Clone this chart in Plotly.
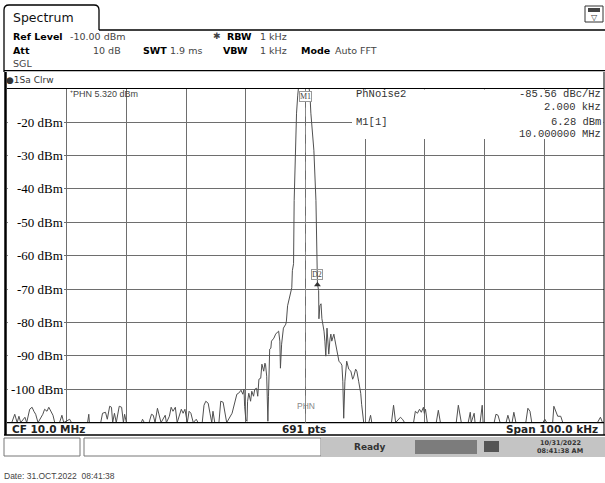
import plotly.graph_objects as go

W, H = 605, 483
def px(x): return x / W
def py(y): return 1 - y / H

# ---------------- data ----------------
center_mhz = 10.0
span_khz = 100.0
ref_level = -10.0
bottom_level = -110.0

offset_khz = [
    -50, -49.2, -48.7, -48.3, -48, -47.7, -47, -46.7, -46.2, -45.8, -45.5, -45.2, -44.8,
    -44, -43.7, -43.3, -43, -42.7, -42.3, -42, -41.2, -40.8, -40.5, -39.5, -39.2, -36.5,
    -36.3, -36.2, -34.3, -34, -33.5, -33.2, -32.8, -32.5, -32.3, -32, -31.7, -31.2, -30.8,
    -30.5, -30.3, -30, -27.5, -27.3, -27, -26.2, -25.8, -25.5, -25.2, -24.8, -24.5, -24.2,
    -23.5, -23.3, -22.8, -22.5, -22.2, -21.8, -21.5, -20.8, -20.5, -20.2, -19.8, -19.5,
    -19.2, -18.8, -18.3, -18, -17.3, -17, -16.7, -16.3, -16, -15.7, -15.5, -15.2, -14.5,
    -14.2, -13.8, -13.5, -13.2, -12.3, -11.8, -11.5, -11.2, -10.8, -10.5, -10.3, -10.2,
    -10, -9.8, -9.7, -9.5, -9.2, -9, -8.7, -8.5, -8.2, -8, -7.8, -7.5, -7.3, -7, -6.8,
    -6.7, -6.5, -6.3, -6.2, -6, -5.8, -5.7, -5.3, -5, -4.7, -4.5, -4.3, -4.2, -4, -3.8,
    -3.7, -3.3, -3.2, -3, -2.8, -2.7, -2.5, -2.3, -2.2, -2, -1.9, -1.7, -1.5, -1.3, -1.0,
    -0.5, 0, 0.4, 0.6, 0.75, 0.9, 1.4, 1.75, 1.85, 2.0, 2.2, 2.25, 2.4, 2.6, 2.75, 2.9,
    3.1, 3.25, 3.4, 3.6, 3.75, 3.9, 4.1, 4.25, 4.4, 4.6, 4.75, 4.9, 5.1, 5.4, 5.6, 5.9,
    6.1, 6.25, 6.4, 6.6, 6.75, 6.9, 7.25, 7.6, 7.9, 8.1, 8.4, 8.6, 8.9, 9.25, 9.4, 9.75,
    10.6, 10.75, 10.9, 11.1, 14.4, 14.75, 14.9, 15.1, 15.9, 16.25, 16.6, 18.1, 18.4,
    18.75, 19.1, 19.4, 19.75, 19.9, 20.1, 20.4, 21.9, 22.25, 22.6, 25.25, 25.6, 25.75,
    26.1, 27.25, 27.6, 27.75, 28.25, 28.4, 29.25, 29.6, 29.75, 31.6, 31.9, 32.25, 32.6,
    33.6, 33.9, 34.25, 34.6, 34.9, 35.25, 36.9, 37.25, 37.6, 37.9, 39.75, 40.1, 40.4,
    41.4, 41.6, 41.9, 42.25, 42.75, 43.1, 48.9, 49.4, 49.75, 50,
]
level_dbm = [
    -110, -110, -107.5, -110, -108.1, -110, -108.4, -110, -106, -105.4, -106.6, -107.5, -110,
    -107.5, -106, -106.6, -105.4, -106.6, -107.8, -110, -110, -107.8, -110, -109, -110, -110,
    -107.5, -110, -110, -107.2, -106.9, -109, -105.1, -105.4, -110, -107.2, -110, -105.1, -105.4,
    -110, -107.5, -110, -110, -109, -110, -110, -107.5, -107.8, -110, -105.7, -107.5, -110,
    -107.8, -110, -108.1, -105.4, -106.6, -105.4, -110, -106, -107.2, -106, -110, -106.6,
    -107.2, -110, -109, -110, -110, -104.8, -103.6, -104.2, -107.2, -110, -106.6, -110, -110,
    -103.6, -103.9, -107.2, -110, -107.2, -103.6, -101.5, -101.2, -100.3, -101.5, -100, -105.1,
    -109, -109.6, -103.6, -101.2, -103.6, -100.6, -102.1, -100, -99.7, -102.1, -97, -96.7, -92.5, -94.6, -92.2,
    -92.5, -96.1, -109.6, -102.1, -88, -87.7, -85.6, -84.7, -83.5, -82.9, -82.6, -85.6, -93.7, -86.5, -82.6,
    -81.7, -80.5, -79.6, -75, -73.5, -73.5, -72, -69.6, -64.5, -62.4, -43.5, -28.4, -17.3, -11.9, -5,
    2, 6.28, 1, -9.8, -11.9, -17.3, -28.4, -43.5, -58.5, -68.4, -70.5, -78.9, -75, -74.4, -78.9, -80.2,
    -82.6, -85.6, -90.1, -81.7, -85.6, -89.5, -85, -83.5, -85.6, -84.4, -83.5, -85, -87.1, -89.2, -91.6, -92.2,
    -92.8, -97.6, -108.7, -97.6, -93.1, -91.6, -94, -94.6, -97, -96.1, -94, -94.6, -97.6, -101.2, -104.5, -110,
    -110, -108.1, -107.8, -110, -110, -104.8, -108.1, -110, -108.4, -109, -110, -110, -106.6,
    -107.2, -106, -106.9, -105.4, -107.2, -106, -110, -110, -106.3, -110, -110, -104.8, -106.6,
    -110, -110, -106.9, -110, -107.2, -110, -110, -104.8, -110, -110, -107.5, -107.8, -110,
    -110, -107.8, -110, -110, -106.9, -110, -110, -105.7, -106.6, -110, -110, -109, -110,
    -110, -105.1, -106.3, -108.1, -108.1, -110, -110, -108.4, -110, -110,
]

grid_levels = [-20, -30, -40, -50, -60, -70, -80, -90, -100]
grid_labels = [f"{v} dBm" for v in grid_levels]

d2_offset_khz = [2.0]
d2_level_dbm = [-68.7]
m1_offset_khz = [0.0]

freq_mhz = [center_mhz + f / 1000 for f in offset_khz]
d2_freq = [center_mhz + f / 1000 for f in d2_offset_khz]
m1_freq = [center_mhz + f / 1000 for f in m1_offset_khz]

fig = go.Figure()
fig.add_trace(go.Scatter(x=freq_mhz, y=level_dbm, mode="lines",
                         line=dict(color="#505050", width=1), hoverinfo="skip"))
fig.add_trace(go.Scatter(x=d2_freq, y=d2_level_dbm, mode="markers",
                         marker=dict(symbol="triangle-up", size=6, color="#333"),
                         hoverinfo="skip"))

GRID = "#6e6e6e"
fig.update_layout(
    width=W, height=H, margin=dict(l=0, r=0, t=0, b=0),
    paper_bgcolor="white", plot_bgcolor="white", showlegend=False,
    xaxis=dict(domain=[px(7), px(604)],
               range=[center_mhz - span_khz / 2000, center_mhz + span_khz / 2000],
               tick0=center_mhz - span_khz / 2000, dtick=span_khz / 10000,
               showticklabels=False, ticks="", showgrid=True, gridcolor=GRID,
               gridwidth=1, zeroline=False, fixedrange=True),
    yaxis=dict(domain=[py(422.6), py(88.8)], range=[bottom_level, ref_level],
               tick0=bottom_level, dtick=10, showticklabels=False, ticks="",
               showgrid=True, gridcolor=GRID, gridwidth=1, zeroline=False,
               fixedrange=True),
)

shapes = []
def line(x0, y0, x1, y1, color="#000", width=1, dash="solid", layer="above"):
    shapes.append(dict(type="line", xref="paper", yref="paper", x0=px(x0), y0=py(y0),
                       x1=px(x1), y1=py(y1), line=dict(color=color, width=width, dash=dash),
                       layer=layer))
def rect(x0, y0, x1, y1, fill="white", lc=None, lw=0, layer="above"):
    shapes.append(dict(type="rect", xref="paper", yref="paper", x0=px(x0), y0=py(y0),
                       x1=px(x1), y1=py(y1), fillcolor=fill,
                       line=dict(color=lc or fill, width=lw), layer=layer))

# white covers (label column & marker info box)
rect(7.8, 100, 64, 393)
rect(352, 89.6, 603.5, 139)

# tab
tab = (f"M {px(4)},{py(30)} L {px(4)},{py(10)} Q {px(4)},{py(5)} {px(9)},{py(5)} "
       f"L {px(94)},{py(5)} Q {px(99)},{py(5)} {px(99)},{py(10)} L {px(99)},{py(30)}")
shapes.append(dict(type="path", xref="paper", yref="paper", path=tab,
                   line=dict(color="#000", width=1.3)))
line(99, 30, 605, 30, width=1.3)
line(4, 30, 4, 72, width=1.3)
line(4, 70.7, 605, 70.7, width=1.3)
# window frame
line(5.5, 72, 5.5, 435, width=2.5)
line(7, 88.5, 604, 88.5, width=1.2)
line(7, 422.6, 604, 422.6, width=1.2)
line(604, 72, 604, 435, width=1)
line(4, 435, 605, 435, width=1.3)
# top-right icon
rect(585, 6, 603, 22, fill="white", lc="#333", lw=1)
rect(588, 8, 600, 12, fill="#444")
# center reference line
shapes.append(dict(type="line", xref="x", yref="paper", x0=m1_freq[0], x1=m1_freq[0],
                   y0=py(422.6), y1=py(88.8), line=dict(color="#888", width=1, dash="dash"),
                   layer="above"))
# status bar
rect(4, 438, 80, 456, fill="white", lc="#777", lw=1)
rect(84, 438, 321, 456, fill="white", lc="#777", lw=1)
rect(321, 437, 605, 457, fill="#c4c4c4")
rect(415, 440, 477, 454, fill="#7c7c7c")
rect(484, 441, 499, 452, fill="#555")

ann = []
def txt(x, y, s, size=10, bold=False, color="#000", anchor="left",
        family="DejaVu Sans", xref="paper", yref="paper", bg=None):
    d = dict(xref=xref, yref=yref,
             x=px(x) if xref == "paper" else x,
             y=py(y) if yref == "paper" else y,
             text=f"<b>{s}</b>" if bold else s, showarrow=False,
             xanchor=anchor, yanchor="middle", borderpad=0,
             font=dict(size=size, color=color, family=family))
    if bg:
        d["bgcolor"] = bg
    ann.append(d)

# header
txt(12, 18, "Spectrum", size=12.5, color="#111")
txt(12, 36, "Ref Level", size=9.5, bold=True)
txt(69, 36, "-10.00 dBm", size=9.5, color="#444")
txt(212, 36, "✱", size=9, color="#444")
txt(226, 36, "RBW", size=9.5, bold=True)
txt(259, 36, "1 kHz", size=9.5, color="#444")
txt(12, 50, "Att", size=9.5, bold=True)
txt(122, 50, "10 dB", size=9.5, color="#444", anchor="right")
txt(142, 50, "SWT", size=9.5, bold=True)
txt(169, 50, "1.9 ms", size=9.5, color="#444")
txt(222, 50, "VBW", size=9.5, bold=True)
txt(259, 50, "1 kHz", size=9.5, color="#444")
txt(300, 50, "Mode", size=9.5, bold=True)
txt(334, 50, "Auto FFT", size=9.5, color="#444")
txt(12, 64, "SGL", size=9.5, color="#444")
txt(5, 80, "●1Sa Clrw", size=9, color="#333")
txt(594, 17, "▽", size=8, color="#333", anchor="center")

# y labels
for v, s in zip(grid_levels, grid_labels):
    txt(63.5, v, s, size=13, family="Liberation Serif", anchor="right", yref="y")

# marker texts
MONO = "Liberation Mono"
txt(69, 94, "⁺PHN 5.320 dBm", size=9, color="#444", family="Liberation Sans")
txt(355, 94, "PhNoise2", size=10.5, color="#333", family=MONO)
txt(602, 94, "-85.56 dBc/Hz", size=10.5, color="#333", family=MONO, anchor="right")
txt(602, 107, "2.000 kHz", size=10.5, color="#333", family=MONO, anchor="right")
txt(355, 122, "M1[1]", size=10.5, color="#333", family=MONO)
txt(602, 122, "6.28 dBm", size=10.5, color="#333", family=MONO, anchor="right")
txt(602, 134, "10.000000 MHz", size=10.5, color="#333", family=MONO, anchor="right")
ann.append(dict(xref="x", yref="paper", x=m1_freq[0], y=py(97), text="M1",
                showarrow=False, xanchor="center", yanchor="middle",
                font=dict(size=8, color="#444", family="Liberation Serif"),
                bordercolor="#999", borderwidth=1, borderpad=0, bgcolor="white"))
ann.append(dict(xref="x", yref="y", x=d2_freq[0], y=d2_level_dbm[0] + 3.2, text="D2",
                showarrow=False, xanchor="center", yanchor="middle",
                font=dict(size=8, color="#444", family="Liberation Serif"),
                bordercolor="#999", borderwidth=1, borderpad=0))
ann.append(dict(xref="x", yref="paper", x=m1_freq[0], y=py(406), text="PHN",
                showarrow=False, xanchor="center", yanchor="middle",
                font=dict(size=8.5, color="#888", family="Liberation Sans")))

# bottom bar
txt(11, 428.5, "CF 10.0 MHz", size=10.5, bold=True, color="#222")
txt(304, 428.5, "691 pts", size=10.5, bold=True, color="#222", anchor="center")
txt(599, 428.5, "Span 100.0 kHz", size=10.5, bold=True, color="#222", anchor="right")
txt(370, 447, "Ready", size=9, bold=True, color="#333", anchor="center")
txt(560, 443, "10/31/2022", size=6.5, bold=True, color="#333", anchor="center")
txt(560, 451, "08:41:38 AM", size=6.5, bold=True, color="#333", anchor="center")
txt(3, 476, "Date: 31.OCT.2022  08:41:38", size=8.5, color="#444", family="Liberation Sans")

fig.update_layout(shapes=shapes, annotations=ann)
fig.write_html("out.html", config={"displayModeBar": False},
               post_script="document.body.style.margin='0';document.body.style.overflow='hidden';")
